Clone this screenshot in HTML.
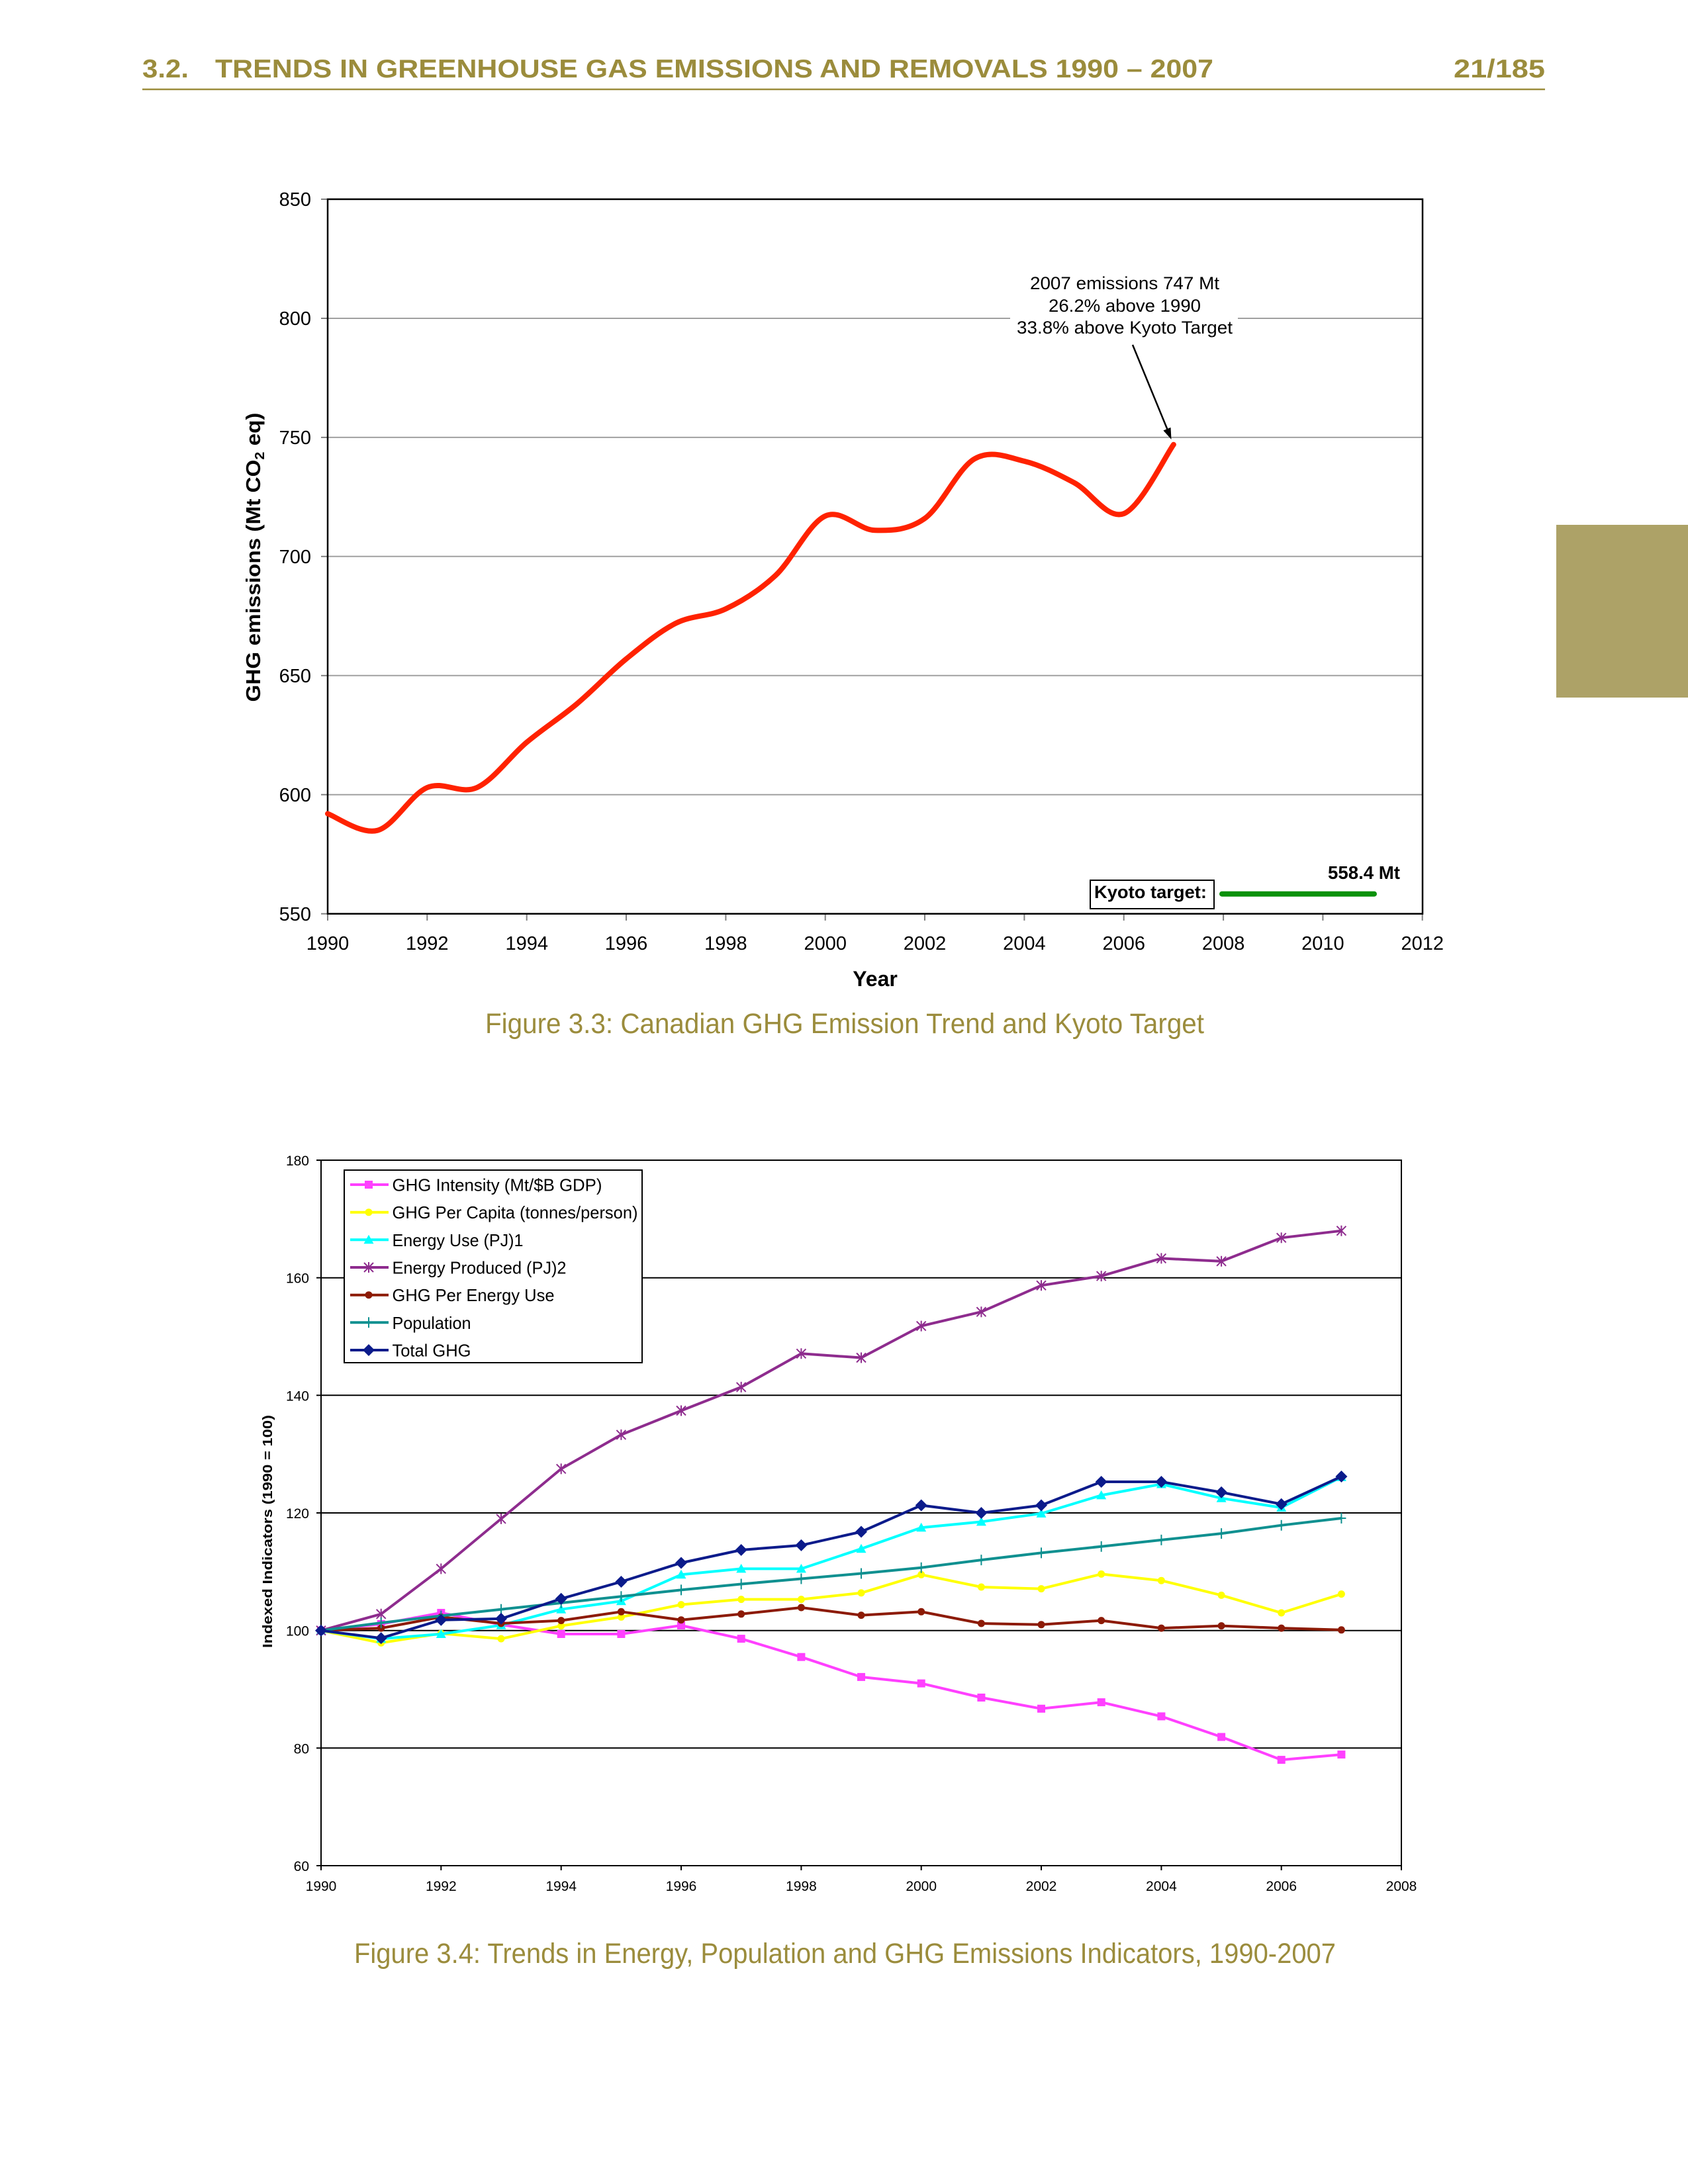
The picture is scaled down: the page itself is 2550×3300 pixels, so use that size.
<!DOCTYPE html>
<html>
<head>
<meta charset="utf-8">
<style>
html,body{margin:0;padding:0;background:#fff;}
svg{display:block;}
text{font-family:"Liberation Sans",Arial,sans-serif;}
</style>
</head>
<body>
<svg width="2550" height="3300" viewBox="0 0 2550 3300" xmlns="http://www.w3.org/2000/svg">
<defs>
<marker id="msq" markerUnits="userSpaceOnUse" markerWidth="20" markerHeight="20" refX="10" refY="10" overflow="visible"><rect x="4" y="4" width="12" height="12" fill="#ff40ff"/></marker>
<marker id="mcy" markerUnits="userSpaceOnUse" markerWidth="20" markerHeight="20" refX="10" refY="10" overflow="visible"><circle cx="10" cy="10" r="5.5" fill="#ffff00"/></marker>
<marker id="mtr" markerUnits="userSpaceOnUse" markerWidth="20" markerHeight="20" refX="10" refY="10" overflow="visible"><polygon points="10,2.5 17.5,16 2.5,16" fill="#00ffff"/></marker>
<marker id="mst" markerUnits="userSpaceOnUse" markerWidth="20" markerHeight="20" refX="10" refY="10" overflow="visible"><path d="M3,3 L17,17 M17,3 L3,17 M10,2 L10,18" stroke="#8e2c8e" stroke-width="2" fill="none"/></marker>
<marker id="mcr" markerUnits="userSpaceOnUse" markerWidth="20" markerHeight="20" refX="10" refY="10" overflow="visible"><circle cx="10" cy="10" r="5.5" fill="#8c1a05"/></marker>
<marker id="mpl" markerUnits="userSpaceOnUse" markerWidth="20" markerHeight="20" refX="10" refY="10" overflow="visible"><path d="M10,2 L10,18 M3,10 L17,10" stroke="#0f9090" stroke-width="2" fill="none"/></marker>
<marker id="mdi" markerUnits="userSpaceOnUse" markerWidth="20" markerHeight="20" refX="10" refY="10" overflow="visible"><polygon points="10,1 19,10 10,19 1,10" fill="#0b1b8b"/></marker>
</defs>

<rect x="0" y="0" width="2550" height="3300" fill="#fff"/>

<!-- Header -->
<text x="215" y="117" font-size="39" font-weight="bold" fill="#9b8c3c" textLength="70" lengthAdjust="spacingAndGlyphs">3.2.</text>
<text x="325" y="117" font-size="39" font-weight="bold" fill="#9b8c3c" textLength="1508" lengthAdjust="spacingAndGlyphs">TRENDS IN GREENHOUSE GAS EMISSIONS AND REMOVALS 1990 – 2007</text>
<text x="2196" y="117" font-size="39" font-weight="bold" fill="#9b8c3c" textLength="138" lengthAdjust="spacingAndGlyphs">21/185</text>
<line x1="215" y1="135" x2="2334" y2="135" stroke="#9b8c3c" stroke-width="2.5"/>

<!-- Side tab -->
<rect x="2351" y="793" width="199" height="261" fill="#ada267"/>

<!-- ============ Chart 1 ============ -->
<g stroke="#a0a0a0" stroke-width="2">
<line x1="495" y1="481" x2="2149" y2="481"/>
<line x1="495" y1="660.9" x2="2149" y2="660.9"/>
<line x1="495" y1="840.8" x2="2149" y2="840.8"/>
<line x1="495" y1="1020.8" x2="2149" y2="1020.8"/>
<line x1="495" y1="1200.7" x2="2149" y2="1200.7"/>
</g>
<rect x="1526" y="405" width="344" height="110" fill="#fff"/>

<!-- ticks -->
<g stroke="#808080" stroke-width="2">
<line x1="485" y1="301" x2="495" y2="301"/>
<line x1="485" y1="481" x2="495" y2="481"/>
<line x1="485" y1="660.9" x2="495" y2="660.9"/>
<line x1="485" y1="840.8" x2="495" y2="840.8"/>
<line x1="485" y1="1020.8" x2="495" y2="1020.8"/>
<line x1="485" y1="1200.7" x2="495" y2="1200.7"/>
<line x1="485" y1="1380.7" x2="495" y2="1380.7"/>
<line x1="495" y1="1381" x2="495" y2="1391"/>
<line x1="645.3" y1="1381" x2="645.3" y2="1391"/>
<line x1="795.7" y1="1381" x2="795.7" y2="1391"/>
<line x1="946" y1="1381" x2="946" y2="1391"/>
<line x1="1096.4" y1="1381" x2="1096.4" y2="1391"/>
<line x1="1246.7" y1="1381" x2="1246.7" y2="1391"/>
<line x1="1397" y1="1381" x2="1397" y2="1391"/>
<line x1="1547.4" y1="1381" x2="1547.4" y2="1391"/>
<line x1="1697.7" y1="1381" x2="1697.7" y2="1391"/>
<line x1="1848.1" y1="1381" x2="1848.1" y2="1391"/>
<line x1="1998.4" y1="1381" x2="1998.4" y2="1391"/>
<line x1="2148.7" y1="1381" x2="2148.7" y2="1391"/>
</g>

<rect x="495" y="301" width="1654" height="1079.7" fill="none" stroke="#000" stroke-width="2.5"/>

<!-- y labels -->
<g font-size="29" fill="#000" text-anchor="end">
<text x="470" y="311">850</text>
<text x="470" y="491">800</text>
<text x="470" y="671">750</text>
<text x="470" y="851">700</text>
<text x="470" y="1031">650</text>
<text x="470" y="1211">600</text>
<text x="470" y="1391">550</text>
</g>
<!-- x labels -->
<g font-size="29" fill="#000" text-anchor="middle">
<text x="495" y="1435">1990</text>
<text x="645.3" y="1435">1992</text>
<text x="795.7" y="1435">1994</text>
<text x="946" y="1435">1996</text>
<text x="1096.4" y="1435">1998</text>
<text x="1246.7" y="1435">2000</text>
<text x="1397" y="1435">2002</text>
<text x="1547.4" y="1435">2004</text>
<text x="1697.7" y="1435">2006</text>
<text x="1848.1" y="1435">2008</text>
<text x="1998.4" y="1435">2010</text>
<text x="2148.7" y="1435">2012</text>
</g>
<text x="1322" y="1490" font-size="32" font-weight="bold" text-anchor="middle">Year</text>
<text transform="translate(393,842) rotate(-90)" font-size="31" font-weight="bold" text-anchor="middle" textLength="437" lengthAdjust="spacingAndGlyphs">GHG emissions (Mt CO<tspan font-size="20" dy="6">2</tspan><tspan dy="-6"> eq)</tspan></text>

<!-- emission curve -->
<path d="M495,1229.5 C507.5,1233.7 545.1,1261.3 570.2,1254.7 C595.3,1248.1 620.2,1200.8 645.3,1190 C670.4,1179.2 695.4,1201.4 720.5,1190 C745.6,1178.6 770.6,1142.6 795.7,1121.6 C820.8,1100.6 845.8,1085 870.9,1064 C896,1043 920.9,1016 946,995.6 C971.1,975.2 996.1,954.2 1021.2,941.6 C1046.3,929 1071.3,932 1096.4,920 C1121.5,908 1146.4,893 1171.5,869.6 C1196.6,846.2 1221.6,791.1 1246.7,779.7 C1271.8,768.3 1296.8,800.7 1321.9,801.3 C1347,801.9 1372,801.3 1397.1,783.3 C1422.2,765.3 1447.1,707.7 1472.2,693.3 C1497.3,678.9 1522.3,690.9 1547.4,696.9 C1572.5,702.9 1597.5,716.1 1622.6,729.3 C1647.7,742.5 1672.6,785.7 1697.7,776.1 C1722.8,766.5 1760.4,689.1 1772.9,671.7" fill="none" stroke="#ff2200" stroke-width="8" stroke-linecap="round" stroke-linejoin="round"/>

<!-- annotation -->
<g font-size="27" fill="#000" text-anchor="middle">
<text x="1699" y="437" textLength="286" lengthAdjust="spacingAndGlyphs">2007 emissions 747 Mt</text>
<text x="1699" y="471" textLength="230" lengthAdjust="spacingAndGlyphs">26.2% above 1990</text>
<text x="1699" y="504" textLength="326" lengthAdjust="spacingAndGlyphs">33.8% above Kyoto Target</text>
</g>
<line x1="1711" y1="521" x2="1764" y2="650" stroke="#000" stroke-width="2.5"/>
<polygon points="1769.5,664 1768.5,645.9 1757.4,650.5" fill="#000"/>

<!-- Kyoto target -->
<rect x="1647" y="1330" width="187" height="43" fill="#fff" stroke="#000" stroke-width="2"/>
<text x="1653" y="1357" font-size="27" font-weight="bold" textLength="170" lengthAdjust="spacingAndGlyphs">Kyoto target:</text>
<line x1="1846" y1="1350.7" x2="2076" y2="1350.7" stroke="#0b910b" stroke-width="8" stroke-linecap="round"/>
<text x="2006" y="1328" font-size="28" font-weight="bold" textLength="109" lengthAdjust="spacingAndGlyphs">558.4 Mt</text>

<!-- caption 1 -->
<text x="733" y="1561" font-size="43" fill="#9b8c3c" textLength="1086" lengthAdjust="spacingAndGlyphs">Figure 3.3: Canadian GHG Emission Trend and Kyoto Target</text>

<!-- ============ Chart 2 ============ -->
<g stroke="#000" stroke-width="2">
<line x1="485" y1="1930.7" x2="2117" y2="1930.7"/>
<line x1="485" y1="2108.3" x2="2117" y2="2108.3"/>
<line x1="485" y1="2286" x2="2117" y2="2286"/>
<line x1="485" y1="2463.7" x2="2117" y2="2463.7"/>
<line x1="485" y1="2641.3" x2="2117" y2="2641.3"/>
<!-- y ticks -->
<line x1="478" y1="1753" x2="485" y2="1753"/>
<line x1="478" y1="1930.7" x2="485" y2="1930.7"/>
<line x1="478" y1="2108.3" x2="485" y2="2108.3"/>
<line x1="478" y1="2286" x2="485" y2="2286"/>
<line x1="478" y1="2463.7" x2="485" y2="2463.7"/>
<line x1="478" y1="2641.3" x2="485" y2="2641.3"/>
<line x1="478" y1="2819" x2="485" y2="2819"/>
<!-- x ticks -->
<line x1="485" y1="2819" x2="485" y2="2826"/>
<line x1="666.3" y1="2819" x2="666.3" y2="2826"/>
<line x1="847.7" y1="2819" x2="847.7" y2="2826"/>
<line x1="1029" y1="2819" x2="1029" y2="2826"/>
<line x1="1210.4" y1="2819" x2="1210.4" y2="2826"/>
<line x1="1391.7" y1="2819" x2="1391.7" y2="2826"/>
<line x1="1573" y1="2819" x2="1573" y2="2826"/>
<line x1="1754.4" y1="2819" x2="1754.4" y2="2826"/>
<line x1="1935.7" y1="2819" x2="1935.7" y2="2826"/>
<line x1="2117" y1="2819" x2="2117" y2="2826"/>
</g>
<rect x="485" y="1753" width="1632" height="1066" fill="none" stroke="#000" stroke-width="2"/>

<!-- series -->
<g fill="none" stroke-width="4" stroke-linejoin="round">
<polyline stroke="#ff40ff" marker-start="url(#msq)" marker-mid="url(#msq)" marker-end="url(#msq)" points="485,2463.7 575.7,2453.9 666.3,2437 757,2454.8 847.7,2469 938.4,2469 1029,2456 1119.7,2476.1 1210.4,2503.7 1301,2533.9 1391.7,2543.6 1482.4,2565 1573,2581.8 1663.7,2572.1 1754.4,2593.4 1845.1,2624.5 1935.7,2659.1 2026.4,2651.1"/>
<polyline stroke="#ffff00" marker-start="url(#mcy)" marker-mid="url(#mcy)" marker-end="url(#mcy)" points="485,2463.7 575.7,2482.4 666.3,2468.1 757,2476.1 847.7,2456.6 938.4,2443.3 1029,2424.6 1119.7,2416.6 1210.4,2416.6 1301,2406.9 1391.7,2379.3 1482.4,2398 1573,2400.6 1663.7,2378.4 1754.4,2388.2 1845.1,2410.4 1935.7,2437 2026.4,2408.6"/>
<polyline stroke="#00ffff" marker-start="url(#mtr)" marker-mid="url(#mtr)" marker-end="url(#mtr)" points="485,2463.7 575.7,2476.1 666.3,2469 757,2455.7 847.7,2431.7 938.4,2419.3 1029,2379.3 1119.7,2370.4 1210.4,2370.4 1301,2340.2 1391.7,2308.2 1482.4,2299.4 1573,2286.9 1663.7,2259.4 1754.4,2242.5 1845.1,2263.8 1935.7,2278 2026.4,2231.9"/>
<polyline stroke="#8e2c8e" marker-start="url(#mst)" marker-mid="url(#mst)" marker-end="url(#mst)" points="485,2463.7 575.7,2438.8 666.3,2370.4 757,2294.9 847.7,2219.4 938.4,2167.9 1029,2131.5 1119.7,2095.9 1210.4,2045.3 1301,2051.5 1391.7,2003.6 1482.4,1982.2 1573,1942.3 1663.7,1928.1 1754.4,1901.4 1845.1,1905.8 1935.7,1870.3 2026.4,1859.7"/>
<polyline stroke="#8c1a05" marker-start="url(#mcr)" marker-mid="url(#mcr)" marker-end="url(#mcr)" points="485,2463.7 575.7,2460.1 666.3,2443.3 757,2453 847.7,2448.6 938.4,2435.3 1029,2447.7 1119.7,2438.8 1210.4,2429 1301,2440.6 1391.7,2435.3 1482.4,2453 1573,2454.8 1663.7,2448.6 1754.4,2460.1 1845.1,2456.6 1935.7,2460.1 2026.4,2462.8"/>
<polyline stroke="#0f9090" marker-start="url(#mpl)" marker-mid="url(#mpl)" marker-end="url(#mpl)" points="485,2463.7 575.7,2452.1 666.3,2441.5 757,2431.7 847.7,2422 938.4,2412.2 1029,2402.4 1119.7,2393.5 1210.4,2385.5 1301,2377.5 1391.7,2368.7 1482.4,2357.1 1573,2346.4 1663.7,2336.7 1754.4,2326.9 1845.1,2317.1 1935.7,2304.7 2026.4,2294"/>
<polyline stroke="#0b1b8b" marker-start="url(#mdi)" marker-mid="url(#mdi)" marker-end="url(#mdi)" points="485,2463.7 575.7,2475.2 666.3,2447.7 757,2445.9 847.7,2415.7 938.4,2390 1029,2361.5 1119.7,2342 1210.4,2334.9 1301,2314.5 1391.7,2274.5 1482.4,2286 1573,2274.5 1663.7,2239 1754.4,2239 1845.1,2254.9 1935.7,2272.7 2026.4,2231"/>
</g>

<!-- legend -->
<rect x="520" y="1768" width="450" height="291" fill="#fff" stroke="#000" stroke-width="2"/>
<g fill="none" stroke-width="4">
<polyline stroke="#ff40ff" marker-mid="url(#msq)" points="529,1790 557,1790 587,1790"/>
<polyline stroke="#ffff00" marker-mid="url(#mcy)" points="529,1831.7 557,1831.7 587,1831.7"/>
<polyline stroke="#00ffff" marker-mid="url(#mtr)" points="529,1873.3 557,1873.3 587,1873.3"/>
<polyline stroke="#8e2c8e" marker-mid="url(#mst)" points="529,1915 557,1915 587,1915"/>
<polyline stroke="#8c1a05" marker-mid="url(#mcr)" points="529,1956.7 557,1956.7 587,1956.7"/>
<polyline stroke="#0f9090" marker-mid="url(#mpl)" points="529,1998.3 557,1998.3 587,1998.3"/>
<polyline stroke="#0b1b8b" marker-mid="url(#mdi)" points="529,2040 557,2040 587,2040"/>
</g>
<g font-size="26" fill="#000">
<text x="592.5" y="1799.5" textLength="317" lengthAdjust="spacingAndGlyphs">GHG Intensity (Mt/$B GDP)</text>
<text x="592.5" y="1841.2" textLength="371" lengthAdjust="spacingAndGlyphs">GHG Per Capita (tonnes/person)</text>
<text x="592.5" y="1882.8" textLength="198" lengthAdjust="spacingAndGlyphs">Energy Use (PJ)1</text>
<text x="592.5" y="1924.5" textLength="263" lengthAdjust="spacingAndGlyphs">Energy Produced (PJ)2</text>
<text x="592.5" y="1966.2" textLength="245" lengthAdjust="spacingAndGlyphs">GHG Per Energy Use</text>
<text x="592.5" y="2007.8" textLength="119" lengthAdjust="spacingAndGlyphs">Population</text>
<text x="592.5" y="2049.5" textLength="119" lengthAdjust="spacingAndGlyphs">Total GHG</text>
</g>

<!-- axis labels chart 2 -->
<g font-size="21" fill="#000" text-anchor="end">
<text x="467" y="1761">180</text>
<text x="467" y="1938.7">160</text>
<text x="467" y="2116.3">140</text>
<text x="467" y="2294">120</text>
<text x="467" y="2471.7">100</text>
<text x="467" y="2649.3">80</text>
<text x="467" y="2827">60</text>
</g>
<g font-size="21" fill="#000" text-anchor="middle">
<text x="485" y="2857">1990</text>
<text x="666.3" y="2857">1992</text>
<text x="847.7" y="2857">1994</text>
<text x="1029" y="2857">1996</text>
<text x="1210.4" y="2857">1998</text>
<text x="1391.7" y="2857">2000</text>
<text x="1573" y="2857">2002</text>
<text x="1754.4" y="2857">2004</text>
<text x="1935.7" y="2857">2006</text>
<text x="2117" y="2857">2008</text>
</g>
<text transform="translate(411,2314) rotate(-90)" font-size="20" font-weight="bold" text-anchor="middle" textLength="352" lengthAdjust="spacingAndGlyphs">Indexed Indicators (1990 = 100)</text>

<!-- caption 2 -->
<text x="535" y="2966" font-size="43" fill="#9b8c3c" textLength="1483" lengthAdjust="spacingAndGlyphs">Figure 3.4: Trends in Energy, Population and GHG Emissions Indicators, 1990-2007</text>
</svg>
</body>
</html>
